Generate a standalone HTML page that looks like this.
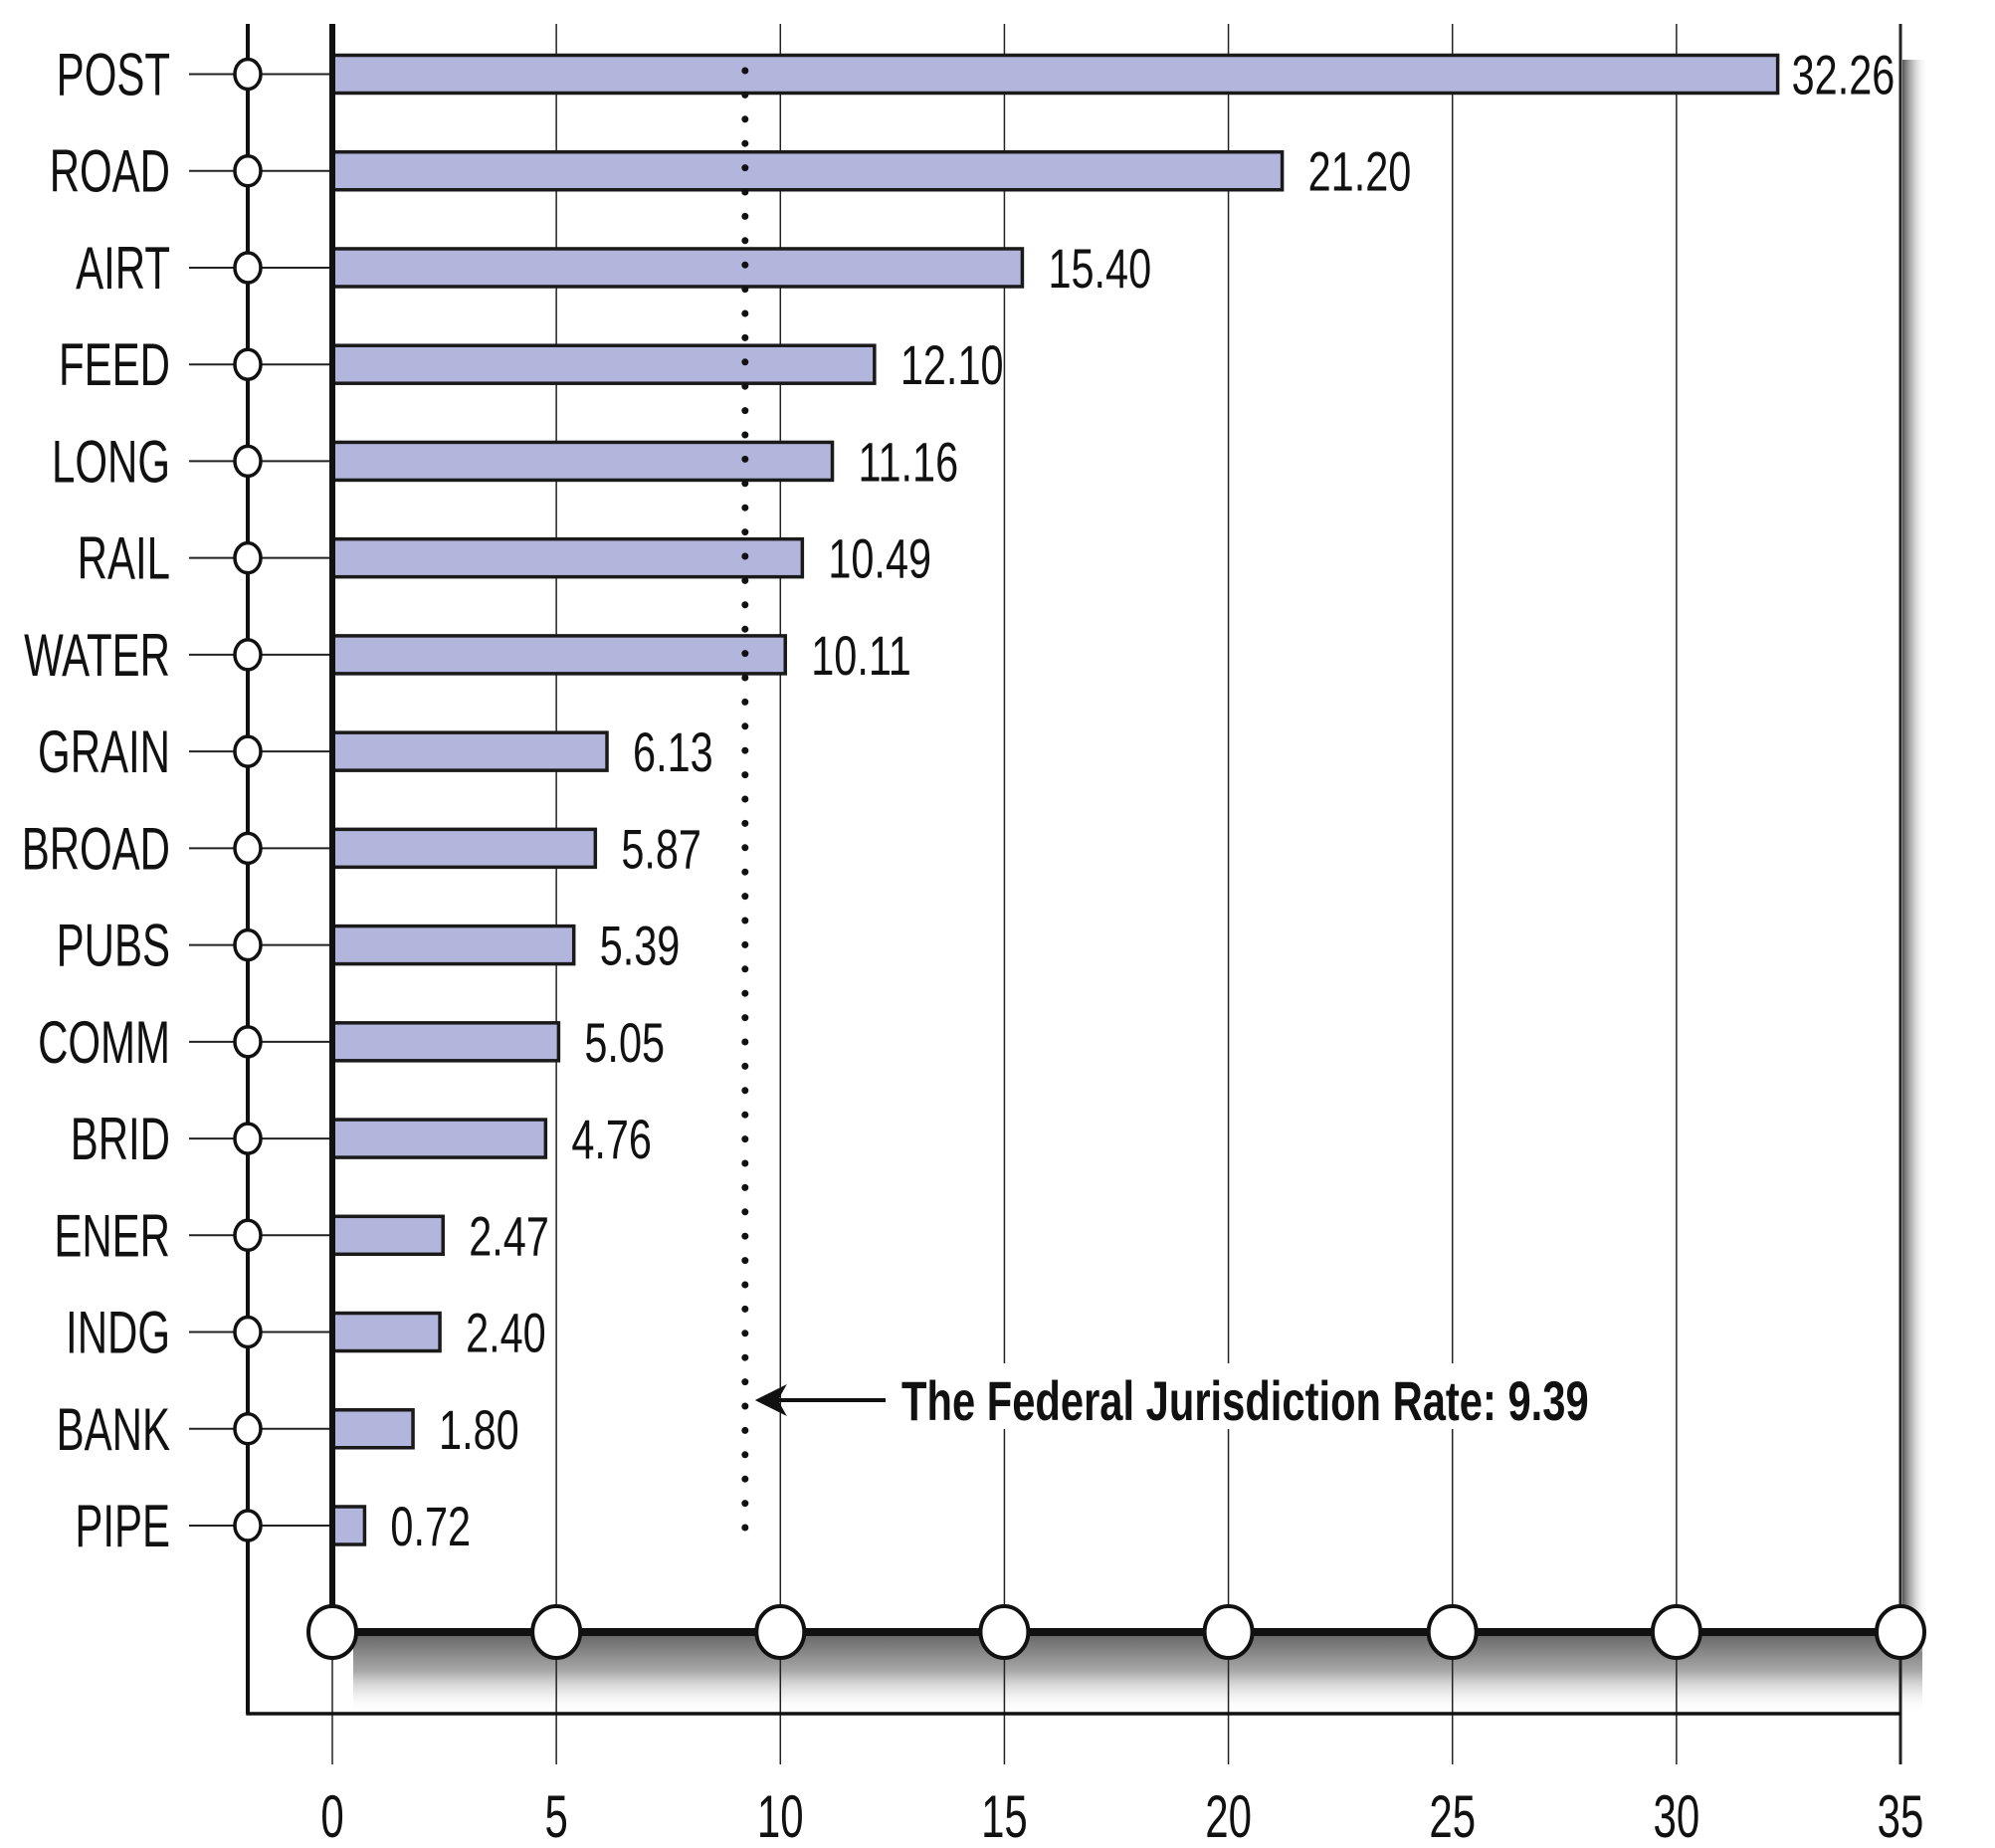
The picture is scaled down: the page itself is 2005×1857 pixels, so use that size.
<!DOCTYPE html>
<html><head><meta charset="utf-8"><style>
html,body{margin:0;padding:0;background:#fff;}
svg{display:block;font-family:"Liberation Sans",sans-serif;}
</style></head><body>
<svg id="chart" width="2005" height="1857" viewBox="0 0 2005 1857" xmlns="http://www.w3.org/2000/svg">
<defs>
<linearGradient id="shB" x1="0" y1="0" x2="0" y2="1"><stop offset="0" stop-color="#6a6a6a"/><stop offset="0.45" stop-color="#a8a8a8"/><stop offset="1" stop-color="#fff" stop-opacity="0"/></linearGradient>
<linearGradient id="shR" x1="0" y1="0" x2="1" y2="0"><stop offset="0" stop-color="#555"/><stop offset="1" stop-color="#fff" stop-opacity="0"/></linearGradient>
</defs>
<g id="layer"></g>
</svg>
<script>
const categories=["POST","ROAD","AIRT","FEED","LONG","RAIL","WATER","GRAIN","BROAD","PUBS","COMM","BRID","ENER","INDG","BANK","PIPE"];
const values=[32.26,21.20,15.40,12.10,11.16,10.49,10.11,6.13,5.87,5.39,5.05,4.76,2.47,2.40,1.80,0.72];
const valueLabels=["32.26","21.20","15.40","12.10","11.16","10.49","10.11","6.13","5.87","5.39","5.05","4.76","2.47","2.40","1.80","0.72"];
const ticks=[0,5,10,15,20,25,30,35];
const federalRate=9.39;

const NS="http://www.w3.org/2000/svg";
const g=document.getElementById('layer');
const X0=334,X35=1910,Y0=74.5,YN=1533,AXY=1640,FRY=1722;
const xs=v=>X0+(X35-X0)*v/35;
const ys=i=>Y0+(YN-Y0)*i/(categories.length-1);
function mk(t,a,p){const e=document.createElementNS(NS,t);for(const k in a)e.setAttribute(k,a[k]);(p||g).appendChild(e);return e;}

let e=mk('rect',{x:355,y:AXY+4,width:X35-355+22,height:78,fill:'url(#shB)'});


e=mk('rect',{x:X35+2,y:60,width:26,height:AXY-40,fill:'url(#shR)'});



ticks.forEach(t=>{
  const l=mk('line',{x1:xs(t),x2:xs(t),y1:24,y2:1773,stroke:'#222','stroke-width':t===35?3:1.5});
  
  
  const tx=mk('text',{x:0,y:0,'font-size':60,'text-anchor':'middle',fill:'#111',transform:`translate(${xs(t)},1846) scale(0.7,1)`});
  tx.textContent=t;
  
  
});
e=mk('polyline',{points:`249,24 249,${FRY} ${X35},${FRY}`,fill:'none',stroke:'#111','stroke-width':3.5});



categories.forEach((c,i)=>{
  const y=ys(i);
  const l=mk('line',{x1:190,x2:X0,y1:y,y2:y,stroke:'#222','stroke-width':2});
  
  
  const b=mk('rect',{x:X0,y:y-19,width:xs(values[i])-X0,height:38,fill:'#b3b6dc',stroke:'#1a1a1a','stroke-width':3.5});
  
  
  const t=mk('text',{x:0,y:0,'font-size':60,'text-anchor':'end',fill:'#111',transform:`translate(171,${y+21}) scale(0.7,1)`});
  t.textContent=c;
  
  
  const ex=xs(values[i]);
  const gap=(ex+26+110>X35)?14:26;
  const v=mk('text',{x:0,y:0,'font-size':56,fill:'#111',transform:`translate(${ex+gap},${y+20}) scale(0.74,1)`});
  v.textContent=valueLabels[i];
  
  
});
e=mk('line',{x1:249,x2:249,y1:24,y2:FRY,stroke:'#111','stroke-width':4});


categories.forEach((c,i)=>{
  const ci=mk('ellipse',{cx:249,cy:ys(i),rx:13,ry:15,fill:'#fff',stroke:'#111','stroke-width':3.5});
  
  
});
e=mk('line',{x1:X0,x2:X0,y1:24,y2:AXY,stroke:'#111','stroke-width':6});


e=mk('line',{x1:X0,x2:X35,y1:AXY,y2:AXY,stroke:'#111','stroke-width':8});


ticks.forEach(t=>{
  const ci=mk('ellipse',{cx:xs(t),cy:AXY,rx:24,ry:26,fill:'#fff',stroke:'#111','stroke-width':4});
  
  
});
const fx=xs(federalRate)-8;
e=mk('line',{x1:fx,x2:fx,y1:71,y2:1536,stroke:'#111','stroke-width':7,'stroke-dasharray':'0 24.4','stroke-linecap':'round'});


e=mk('rect',{x:895,y:1370,width:720,height:66,fill:'#fff'});


e=mk('line',{x1:fx+25,x2:890,y1:1407,y2:1407,stroke:'#111','stroke-width':4});


e=mk('polygon',{points:`${fx+10},1407 ${fx+42},1391 ${fx+33},1407 ${fx+42},1423`,fill:'#111'});


e=mk('text',{x:0,y:0,'font-size':56,'font-weight':'bold',fill:'#111',transform:'translate(906,1427) scale(0.745,1)'});
e.textContent='The Federal Jurisdiction Rate: '+federalRate.toFixed(2);


</script>
</body></html>
